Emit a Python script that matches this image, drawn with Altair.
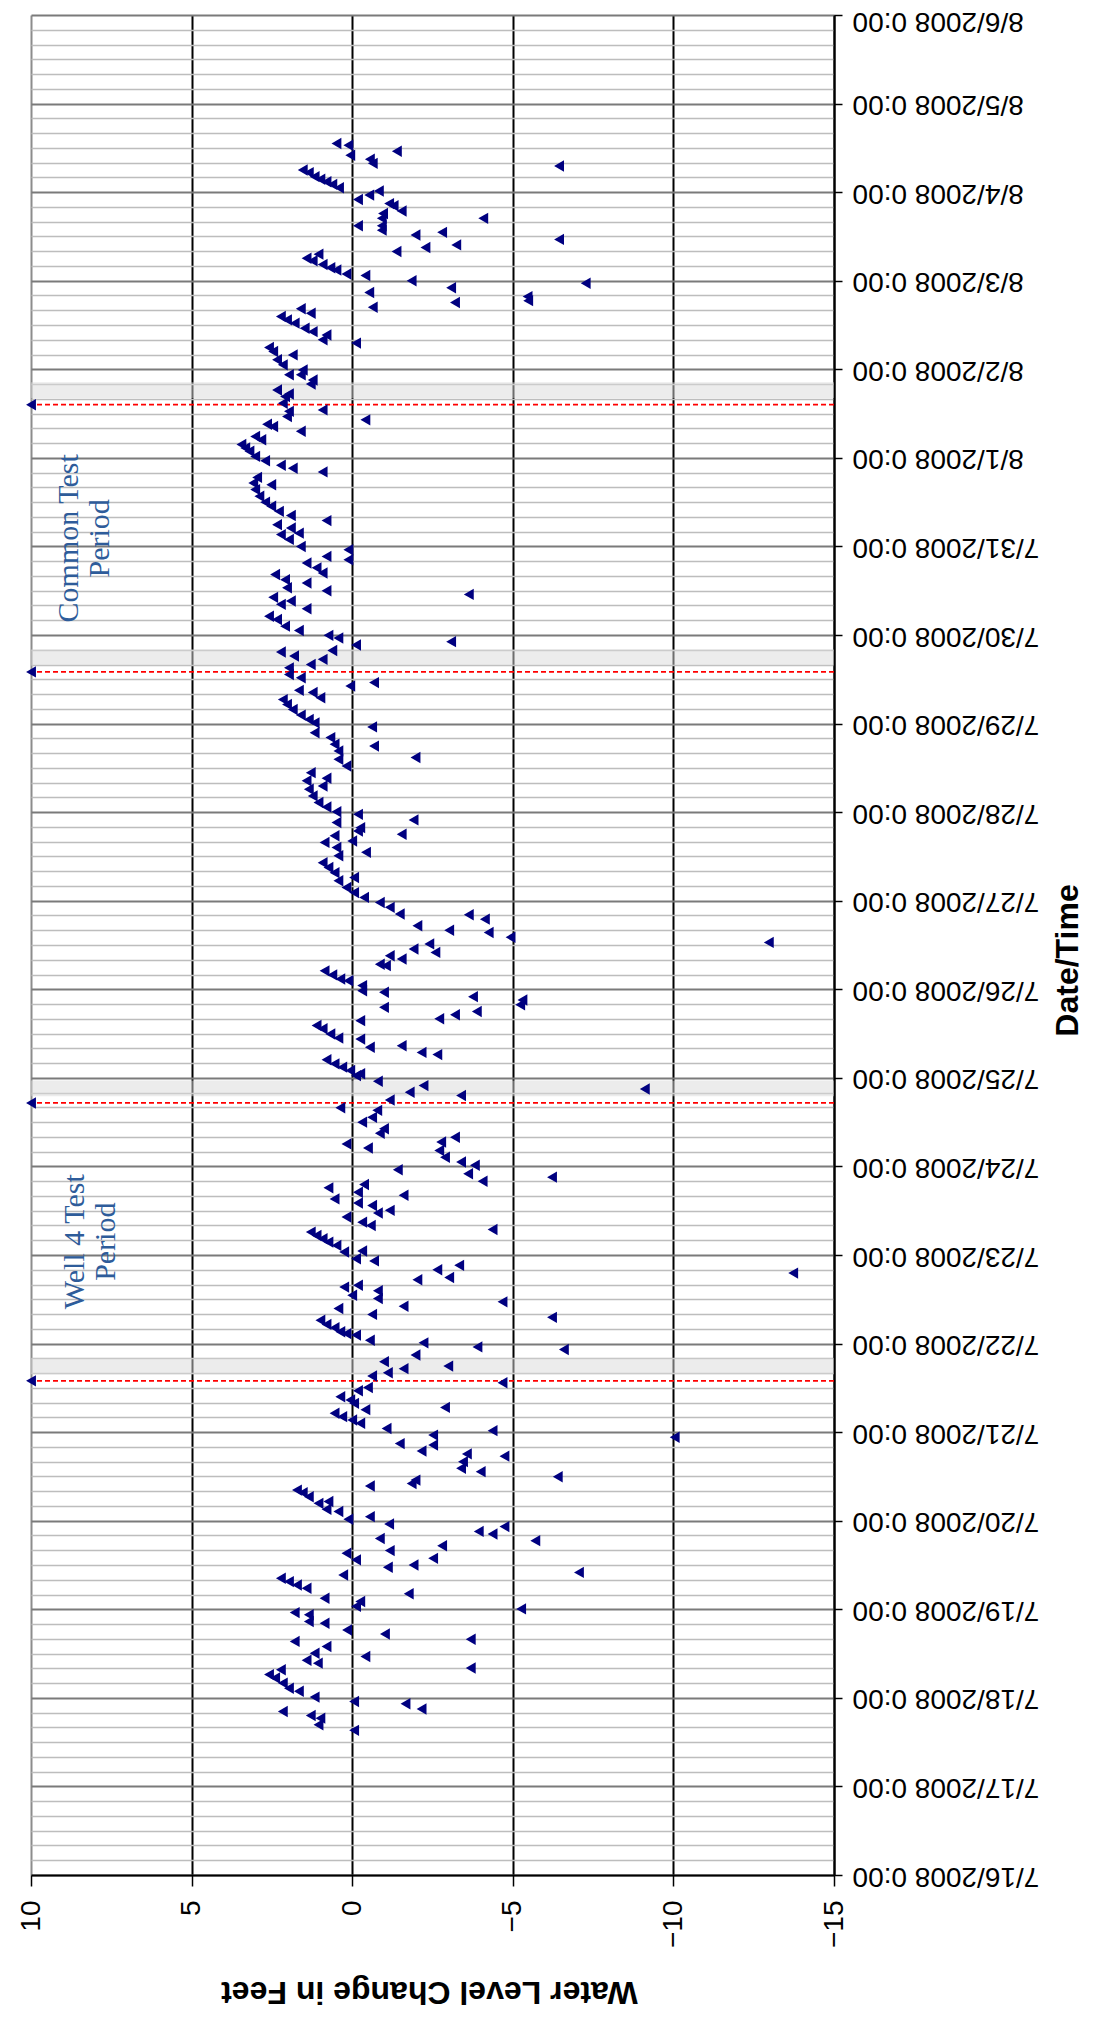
import altair as alt
import pandas as pd

# ---- axis tick labels ----
day_labels = ["7/16/2008 0:00", "7/17/2008 0:00", "7/18/2008 0:00", "7/19/2008 0:00",
              "7/20/2008 0:00", "7/21/2008 0:00", "7/22/2008 0:00", "7/23/2008 0:00",
              "7/24/2008 0:00", "7/25/2008 0:00", "7/26/2008 0:00", "7/27/2008 0:00",
              "7/28/2008 0:00", "7/29/2008 0:00", "7/30/2008 0:00", "7/31/2008 0:00",
              "8/1/2008 0:00", "8/2/2008 0:00", "8/3/2008 0:00", "8/4/2008 0:00",
              "8/5/2008 0:00", "8/6/2008 0:00"]
level_ticks = [10, 5, 0, -5, -10, -15]
time_ticks = list(range(0, 505, 4))   # every 4 hours since 7/16/2008 0:00

# ---- measured water level change (hours since 7/16/2008 0:00, feet) ----
hours = [
    469.2, 468.7, 467.1, 466.0, 464.9, 463.8, 463.1, 462.0, 461.3, 460.2, 459.5, 458.8, 458.1, 457.2,
    456.3, 455.2, 454.0, 452.9, 452.3, 450.9, 450.2, 448.9, 448.9, 446.9, 446.9, 445.7, 445.1, 444.4,
    443.2, 441.7, 441.0, 439.9, 439.2, 438.1, 437.4, 436.4, 435.5, 434.9, 433.8, 433.4, 432.0, 431.3,
    430.1, 428.8, 427.7, 426.6, 426.1, 424.8, 424.4, 423.2, 422.3, 421.4, 420.5, 419.1, 418.2, 417.3,
    416.0, 415.1, 413.9, 412.8, 411.9, 410.6, 409.2, 407.8, 406.5, 406.5, 405.1,
    404.0, 402.4, 401.3, 400.6, 398.8, 397.0, 396.6, 395.2, 394.3, 393.1, 392.5, 391.2, 389.8, 388.9,
    387.6, 386.7, 385.8, 384.4, 383.2, 382.0, 381.2, 380.2, 378.7, 377.2, 376.7, 375.4, 373.6, 372.0,
    370.9, 369.5, 368.4, 367.0, 365.9, 365.0, 363.6, 363.2, 361.9, 360.0, 359.1, 357.3, 356.4, 355.5,
    354.2, 352.8, 352.4, 351.0, 350.1, 348.8, 348.0, 347.0, 346.2, 345.2, 344.3, 343.1, 341.1, 340.2,
    338.4, 337.2, 335.9, 335.2, 334.2, 333.3,
    331.8, 331.4, 330.3, 329.4, 328.0, 327.1, 325.3, 324.4, 323.1, 322.2, 321.0, 320.4, 319.0, 318.5,
    317.2, 315.8, 314.3, 313.1, 312.2, 311.1, 309.5, 308.2, 306.4, 305.9, 304.6, 302.8, 302.3, 300.5,
    298.7, 297.2, 296.5, 295.1, 294.2, 292.4, 290.6, 289.4, 288.1, 287.4, 285.9, 285.2, 283.8, 282.9,
    282.0, 281.6, 280.2, 279.8, 278.4, 277.1, 276.2, 274.3, 273.0, 271.6, 270.3, 269.4, 267.6, 266.2,
    264.9, 263.5, 262.2, 260.4, 260.2, 259.0,
    257.2, 256.0, 255.4, 254.1, 252.7, 252.3, 250.9, 250.0, 249.1, 248.2, 246.8, 246.4, 245.0, 243.9,
    242.8, 242.3, 241.0, 239.6, 239.2, 238.0, 237.1, 235.8, 235.1, 234.0, 233.1, 232.0, 231.5, 230.2,
    229.3, 227.9, 226.8, 226.5, 224.7, 224.3, 222.9, 222.3, 220.9, 219.8, 218.9, 218.0, 217.1, 216.6,
    215.1, 213.9, 213.0, 212.1, 211.2, 210.0, 207.9, 207.2, 205.3, 204.0, 202.2, 201.0, 199.9, 198.6,
    198.1, 197.0, 196.3, 194.5, 193.2, 192.3, 191.1, 190.0, 189.1, 188.0,
    187.1, 186.2, 185.0, 184.2, 183.2, 182.1, 181.4, 180.1, 179.4, 178.3, 176.9, 176.0, 174.9, 174.2,
    173.3, 172.4, 171.5, 170.6, 169.1, 168.8, 167.0, 166.4, 165.2, 164.0, 163.1, 161.9, 161.3, 159.8,
    159.3, 158.3, 157.1, 156.2, 155.3, 154.1, 153.5, 151.9, 151.1, 150.3, 149.2, 148.3, 147.2, 146.7,
    146.3, 144.9, 144.2, 143.1, 142.4, 140.9, 139.1, 137.9, 137.2, 136.1, 135.2, 133.4, 132.1, 131.2,
    129.6, 128.7, 127.8, 126.7, 126.1, 125.1, 124.2, 123.3, 122.4, 121.0, 120.4, 119.2, 118.6, 116.9,
    116.5, 114.9, 114.1, 113.5,
    112.0, 110.2, 109.3, 107.9, 107.0, 106.1, 105.4, 104.3, 103.6, 102.5, 101.2, 100.7, 99.1, 98.5,
    97.1, 96.4, 95.1, 94.4, 93.1, 92.4, 91.2, 90.6, 89.2, 87.9, 87.2, 85.8, 85.4, 84.0,
    83.4, 82.0, 81.3, 80.4, 79.5, 78.6, 77.7, 76.2, 75.0, 74.1, 72.8, 72.1, 71.1, 70.5,
    68.7, 68.2, 66.4, 65.3, 63.9, 63.3, 61.9, 60.1, 59.2, 58.2, 57.4, 56.1, 55.6, 54.3,
    53.4, 52.0, 50.6, 49.8, 48.2, 47.0, 46.4, 45.0, 44.3, 43.2, 42.5, 40.7, 39.2,
]
level = [
    0.49, 0.12, -1.39, 0.06, -0.55, -0.64, -6.44, 1.54, 1.35, 1.17, 0.99, 0.80, 0.62, 0.41,
    -0.83, -0.53, -0.18, -1.15, -1.29, -1.54, -0.96, -0.92, -4.08, -0.18, -0.92, -0.92, -2.80, -1.97,
    -6.44, -3.24, -2.28, -1.38, 1.05, 1.42, 1.23, 0.92, 0.68, 0.49, 0.18, -0.41, -1.85, -7.27,
    -3.08, -0.53, -5.46, -5.48, -3.20, -0.64, 1.60, 1.29, 2.22, 2.03, 1.79, 1.48, 1.23, 0.80,
    0.92, -0.12, 2.59, 2.46, 1.85, 2.34, 2.16, 1.54, 1.97, 1.60, 1.23,
    1.29, 2.34, 1.97, 2.09, 2.16, 0.92, 1.97, 2.03, -0.41, 2.65, 2.46, 1.60, 3.02, 2.83,
    3.45, 3.33, 3.20, 3.02, 2.71, 2.22, 1.85, 0.92, 2.96, 3.08, 2.52, 3.02, 2.89, 2.71,
    2.52, 2.28, 1.91, 0.80, 2.34, 1.91, 1.66, 2.22, 1.97, 1.60, 0.12, 0.80, 0.12, 1.42,
    1.11, 0.92, 2.40, 2.09, 1.42, 2.03, 0.80, -3.63, 2.46, 1.91, 2.22, 1.42, 2.59, 2.34,
    2.09, 1.66, 0.74, 0.43, -3.08, -0.12,
    0.62, 2.22, 1.81, 0.92, 1.29, 1.97, 1.97, 1.60, -0.68, 0.06, 1.66, 1.23, 0.99, 2.16,
    2.03, 1.85, 1.60, 1.35, 1.17, -0.62, 1.17, 0.68, 0.55, -0.68, 0.43, -1.97, 0.43, 0.18,
    1.29, 0.80, 1.42, 0.92, 1.35, 1.23, 1.05, 0.80, 0.49, -0.18, -1.91, 0.49, -0.25, -0.18,
    -1.54, 0.55, 0.00, 0.86, 0.49, -0.43, 0.43, 0.92, 0.74, 0.55, -0.06, 0.43, 0.18, -0.06,
    -0.37, -0.86, -1.17, -1.48, -3.63, -4.13,
    -2.03, -3.02, -4.25, -4.93, -12.97, -2.40, -1.91, -2.59, -1.17, -1.54, -0.86, -1.05, 0.86, 0.62,
    0.37, 0.12, -0.31, -0.31, -0.99, -3.76, -5.30, -5.23, -0.99, -3.88, -3.20, -2.71, -0.25, 1.11,
    0.92, 0.68, 0.43, -0.25, -1.54, -0.55, -2.16, -2.65, 0.80, 0.55, 0.31, 0.06, -0.25, -0.12,
    -0.80, -2.22, -9.11, -1.79, -3.39, -1.17, 0.37, -0.78, -0.62, -0.31, -0.99, -0.86, -3.20, -2.77,
    0.18, -0.49, -2.71, -2.89, -3.39, -3.82, -1.42, -3.61, -6.22, -4.06,
    -0.37, 0.74, -0.18, -1.60, 0.55, -0.18, -0.62, -1.17, -0.80, 0.18, -0.31, -0.58, -4.37, 1.29,
    1.11, 0.92, 0.74, 0.49, -0.31, 0.25, -0.12, -0.68, -3.33, -2.65, -13.73, -3.02, -2.03, -0.18,
    0.25, -0.80, 0.00, -0.80, -4.68, -1.60, 0.43, -0.62, -6.22, 0.99, 0.80, 0.55, 0.37, 0.18,
    -0.12, -0.55, -2.22, -3.90, -6.59, -1.97, -0.99, -2.99, -1.60, -1.11, -0.62, -4.68, -0.49, -0.18,
    0.37, 0.06, -0.06, -2.89, -0.41, 0.55, 0.31, 0.00, -0.25, -1.07, -4.37, -2.52, -10.04, -1.48,
    -2.52, -2.16, -3.57, -4.74,
    -3.45, -3.39, -4.00, -6.40, -1.97, -1.85, -0.55, 1.72, 1.54, 1.35, 0.74, 1.05, 0.80, 0.43,
    -0.55, 0.12, -1.15, -4.74, -3.94, -4.37, -0.86, -5.70, -2.80, -1.17, 0.18, -2.52, -0.12, -1.91,
    -1.11, -7.06, 0.28, 2.22, 1.97, 1.72, 1.42, -1.76, 0.86, -0.25, -0.12, -5.26, 1.79, 1.35,
    1.35, 0.86, 0.16, -1.02, -3.69, 1.79, 0.80, 1.17, -0.41, 1.42, 1.07, -3.69, 2.22, 2.59,
    2.40, 2.16, 1.97, 1.66, 1.17, -0.06, -1.66, -2.16, 2.16, 1.29, 0.99, 1.05, -0.06,
]

# ---- test period boundaries (hours since 7/16/2008 0:00) ----
boundary_hours = [133.9, 209.2, 326.0, 398.4]
boundary_marker_level = [10, 10, 10, 10]
shade_start = [135.7, 211.0, 327.8, 400.2]
shade_end = [140.0, 215.3, 332.1, 404.5]

# ---- period annotations ----
note_text = ["Common Test", "Period", "Well 4 Test", "Period"]
note_hours = [362.2, 362.2, 171.6, 171.6]
note_level = [8.82, 7.85, 8.62, 7.65]

pts = pd.DataFrame({"h": hours, "v": level})
bnd = pd.DataFrame({"h": boundary_hours, "v": boundary_marker_level})
shade = pd.DataFrame({"h": shade_start, "h2": shade_end})
notes = pd.DataFrame({"h": note_hours, "v": note_level, "t": note_text})

FONT = "Liberation Sans"
major = "datum.value % 24 === 0"
label_expr = "datum.value % 24 === 0 ? " + str(day_labels) + "[datum.value / 24] : ''"

xscale = alt.Scale(domain=[-15, 10], reverse=True, nice=False, zero=False)
yscale = alt.Scale(domain=[0, 504], nice=False, zero=False)

xaxis = alt.Axis(
    values=level_ticks, labelAngle=270, labelFontSize=28, labelFont=FONT, labelColor="black",
    labelPadding=14, labelFlush=False, labelOverlap=False, labelLimit=0,
    tickSize=11, tickColor="black", tickWidth=1.5,
    domainColor="black", domainWidth=2,
    grid=True, gridColor={"condition": {"test": "datum.value === 10", "value": "#8c8c8c"}, "value": "#000000"},
    gridWidth=2,
    title="Water Level Change in Feet", titleFont=FONT, titleFontSize=32, titleFontWeight="bold",
    titleColor="black", titleAngle=180, titleX=398, titleY=116, titleAlign="center",
    titleBaseline="middle",
)
yaxis = alt.Axis(
    orient="right", values=time_ticks, labelExpr=label_expr, labelAngle=180, labelAlign="right",
    labelBaseline="middle", labelFontSize=28, labelFont=FONT, labelColor="black",
    labelPadding=10, labelOverlap=False, labelFlush=False, labelLimit=0,
    labelOffset={"condition": {"test": "datum.value === 504", "value": 5}, "value": 0},
    tickSize=8, tickColor="black", tickWidth=1.5,
    tickOpacity={"condition": {"test": major, "value": 1}, "value": 0},
    domainColor="black", domainWidth=2,
    grid=True,
    gridColor={"condition": {"test": major, "value": "#7a7a7a"}, "value": "#bdbdbd"},
    gridWidth={"condition": {"test": major, "value": 2}, "value": 1.6},
    title="Date/Time", titleFont=FONT, titleFontSize=32, titleFontWeight="bold", titleColor="black",
    titleAngle=270, titleX=233, titleY=945, titleAlign="center", titleBaseline="middle",
)

X = alt.X("v:Q", scale=xscale, axis=xaxis)
Y = alt.Y("h:Q", scale=yscale, axis=yaxis)

bands = alt.Chart(shade).mark_rect(color="#d9d9d9", opacity=0.5).encode(
    y=Y, y2="h2:Q"
)
rules = alt.Chart(bnd).mark_rule(color="#ff0000", strokeDash=[5, 3], strokeWidth=1.8).encode(y=Y)
edge = alt.Chart(bnd).mark_point(shape="triangle-left", filled=True, color="#000080",
                                 size=130, opacity=1).encode(x=X, y=Y)
points = alt.Chart(pts).mark_point(shape="triangle-left", filled=True, color="#000080",
                                   size=130, opacity=1).encode(x=X, y=Y)
text = alt.Chart(notes).mark_text(angle=270, font="Liberation Serif", fontSize=30,
                                  color="#2e5c9a", align="center", baseline="middle").encode(
    x=X, y=Y, text="t:N"
)

chart = alt.layer(bands, rules, points, edge, text).properties(
    width=803, height=1860,
    autosize=alt.AutoSizeParams(type="none"),
    padding={"left": 23, "top": 7, "right": 255, "bottom": 135},
).configure_view(stroke="transparent")

chart.save("out.html", embed_options={"renderer": "svg", "actions": False})
